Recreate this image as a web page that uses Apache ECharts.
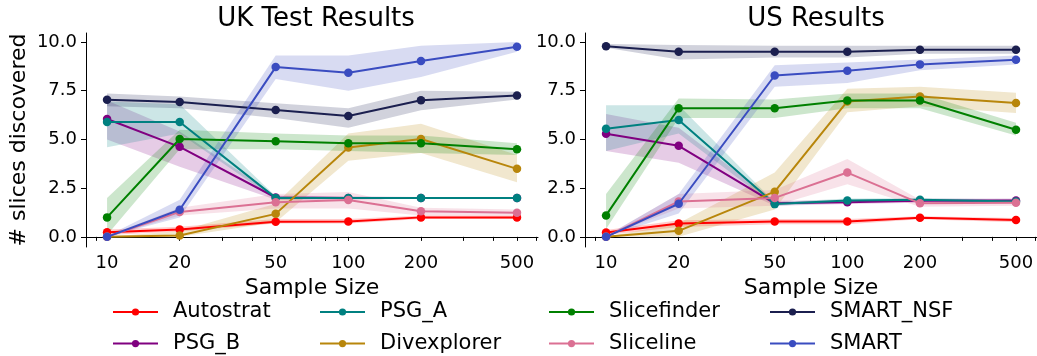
<!DOCTYPE html>
<html><head><meta charset="utf-8">
<script src="https://cdn.jsdelivr.net/npm/echarts@6/dist/echarts.min.js"></script>
<style>html,body{margin:0;padding:0;background:#fff}#c{width:1037px;height:356px}</style>
</head><body><div id="c"></div>
<script>
// ---- data ----
const sampleSizes = [10, 20, 50, 100, 200, 500];
const xTickLabels = [10, 20, 50, 100, 200, 500];
const xAllTicks = [9, 10, 20, 30, 40, 50, 60, 70, 80, 90, 100, 200, 300, 400, 500, 600];
const yTicks = [0, 2.5, 5, 7.5, 10];
const methods = ['Autostrat', 'PSG_B', 'PSG_A', 'Divexplorer', 'Slicefinder', 'Sliceline', 'SMART_NSF', 'SMART'];
const colors = ['#ff0000', '#800080', '#008080', '#b8860b', '#008000', '#db7093', '#1b1f4f', '#3a4cc0'];

// UK means
const ukAutostrat   = [0.24, 0.38, 0.78, 0.79, 1.0, 1.0];
const ukPSG_B       = [6.05, 4.62, 2.02, 2.0, 2.0, 2.0];
const ukPSG_A       = [5.89, 5.89, 2.0, 2.0, 2.0, 2.0];
const ukDivexplorer = [0.0, 0.07, 1.18, 4.59, 5.02, 3.49];
const ukSlicefinder = [1.0, 5.02, 4.9, 4.8, 4.8, 4.5];
const ukSliceline   = [0.0, 1.28, 1.78, 1.89, 1.31, 1.24];
const ukSMART_NSF   = [7.03, 6.92, 6.51, 6.2, 7.01, 7.25];
const ukSMART       = [0.0, 1.39, 8.71, 8.42, 9.02, 9.76];
// UK bands
const ukAutostratLo   = [0.1, 0.28, 0.68, 0.68, 0.92, 0.92];
const ukAutostratHi   = [0.38, 0.52, 0.92, 0.92, 1.1, 1.1];
const ukPSG_BLo       = [5.0, 3.6, 1.9, 1.92, 1.95, 1.95];
const ukPSG_BHi       = [7.0, 5.4, 2.12, 2.08, 2.05, 2.05];
const ukPSG_ALo       = [4.6, 5.3, 1.92, 1.95, 1.95, 1.95];
const ukPSG_AHi       = [6.95, 6.8, 2.08, 2.05, 2.05, 2.05];
const ukDivexplorerLo = [0.0, 0.0, 0.75, 3.9, 4.3, 2.8];
const ukDivexplorerHi = [0.0, 0.3, 1.7, 5.3, 5.8, 4.2];
const ukSlicefinderLo = [0.1, 4.5, 4.5, 4.4, 4.3, 4.2];
const ukSlicefinderHi = [2.0, 5.5, 5.3, 5.2, 5.2, 4.8];
const ukSlicelineLo   = [0.0, 1.1, 1.45, 1.45, 1.1, 1.1];
const ukSlicelineHi   = [0.05, 1.5, 2.2, 2.3, 1.5, 1.4];
const ukSMART_NSFLo   = [6.7, 6.6, 6.1, 5.6, 6.5, 7.05];
const ukSMART_NSFHi   = [7.35, 7.2, 6.85, 6.6, 7.5, 7.45];
const ukSMARTLo       = [0.0, 1.0, 8.1, 7.5, 8.2, 9.5];
const ukSMARTHi       = [0.05, 1.9, 9.3, 9.3, 9.8, 10.0];

// US means
const usAutostrat   = [0.22, 0.69, 0.79, 0.79, 0.98, 0.86];
const usPSG_B       = [5.29, 4.67, 1.72, 1.77, 1.85, 1.86];
const usPSG_A       = [5.55, 6.0, 1.68, 1.87, 1.9, 1.82];
const usDivexplorer = [0.0, 0.31, 2.32, 6.95, 7.2, 6.87];
const usSlicefinder = [1.1, 6.6, 6.6, 7.0, 7.0, 5.5];
const usSliceline   = [0.0, 1.82, 2.0, 3.3, 1.72, 1.75];
const usSMART_NSF   = [9.78, 9.5, 9.5, 9.5, 9.6, 9.6];
const usSMART       = [0.0, 1.7, 8.28, 8.52, 8.85, 9.09];
// US bands
const usAutostratLo   = [0.1, 0.5, 0.65, 0.65, 0.9, 0.75];
const usAutostratHi   = [0.35, 0.85, 0.92, 0.92, 1.06, 0.97];
const usPSG_BLo       = [4.4, 3.8, 1.6, 1.68, 1.75, 1.75];
const usPSG_BHi       = [6.3, 5.6, 1.85, 1.88, 1.95, 1.97];
const usPSG_ALo       = [4.4, 5.3, 1.6, 1.78, 1.82, 1.72];
const usPSG_AHi       = [6.75, 6.75, 1.78, 1.97, 1.98, 1.92];
const usDivexplorerLo = [0.0, 0.0, 1.4, 6.4, 6.7, 6.35];
const usDivexplorerHi = [0.0, 0.7, 3.3, 7.6, 7.7, 7.4];
const usSlicefinderLo = [0.4, 6.1, 6.1, 6.6, 6.6, 5.2];
const usSlicefinderHi = [2.2, 7.1, 7.05, 7.35, 7.35, 5.85];
const usSlicelineLo   = [0.0, 1.45, 1.6, 2.7, 1.55, 1.6];
const usSlicelineHi   = [0.05, 2.2, 2.4, 4.0, 1.9, 1.9];
const usSMART_NSFLo   = [9.7, 9.1, 9.2, 9.2, 9.4, 9.4];
const usSMART_NSFHi   = [9.9, 9.85, 9.8, 9.8, 9.8, 9.8];
const usSMARTLo       = [0.0, 1.2, 7.7, 7.9, 8.55, 8.85];
const usSMARTHi       = [0.05, 2.2, 8.8, 8.95, 9.1, 9.3];

// ---- build ----
const FONT = 'DejaVu Sans';
const panels = [
  { means: [ukAutostrat, ukPSG_B, ukPSG_A, ukDivexplorer, ukSlicefinder, ukSliceline, ukSMART_NSF, ukSMART],
    lo: [ukAutostratLo, ukPSG_BLo, ukPSG_ALo, ukDivexplorerLo, ukSlicefinderLo, ukSlicelineLo, ukSMART_NSFLo, ukSMARTLo],
    hi: [ukAutostratHi, ukPSG_BHi, ukPSG_AHi, ukDivexplorerHi, ukSlicefinderHi, ukSlicelineHi, ukSMART_NSFHi, ukSMARTHi] },
  { means: [usAutostrat, usPSG_B, usPSG_A, usDivexplorer, usSlicefinder, usSliceline, usSMART_NSF, usSMART],
    lo: [usAutostratLo, usPSG_BLo, usPSG_ALo, usDivexplorerLo, usSlicefinderLo, usSlicelineLo, usSMART_NSFLo, usSMARTLo],
    hi: [usAutostratHi, usPSG_BHi, usPSG_AHi, usDivexplorerHi, usSlicefinderHi, usSlicelineHi, usSMART_NSFHi, usSMARTHi] }
];

function bandSeries(name, gi, lo, hi, color) {
  return {
    type: 'custom', name: name + ' band', xAxisIndex: gi, yAxisIndex: gi,
    silent: true, z: 1, animation: false,
    data: sampleSizes.map((x, i) => [x, lo[i], hi[i]]),
    encode: { x: 0, y: [1, 2] },
    renderItem: function (params, api) {
      if (params.dataIndex !== 0) return null;
      const pts = [];
      for (let i = 0; i < sampleSizes.length; i++) pts.push(api.coord([sampleSizes[i], hi[i]]));
      for (let i = sampleSizes.length - 1; i >= 0; i--) pts.push(api.coord([sampleSizes[i], lo[i]]));
      return { type: 'polygon', shape: { points: pts }, style: { fill: color, opacity: 0.2 } };
    }
  };
}

const series = [];
panels.forEach((p, gi) => {
  methods.forEach((m, k) => {
    series.push(bandSeries(m, gi, p.lo[k], p.hi[k], colors[k]));
  });
  methods.forEach((m, k) => {
    series.push({
      type: 'line', name: m, xAxisIndex: gi, yAxisIndex: gi,
      data: sampleSizes.map((x, i) => [x, p.means[k][i]]),
      symbol: 'circle', symbolSize: 8.5, showSymbol: true,
      lineStyle: { width: 2, color: colors[k] }, itemStyle: { color: colors[k] },
      z: 3 + k, animation: false, emphasis: { disabled: true }
    });
  });
});

const grids = [
  { left: 86, top: 33, width: 452, height: 214 },
  { left: 585, top: 33, width: 452, height: 214 }
];

function xAxis(gi) {
  return {
    type: 'log', gridIndex: gi, min: 8.18, max: 611,
    name: 'Sample Size', nameLocation: 'middle', nameGap: 29,
    nameTextStyle: { fontFamily: FONT, fontSize: 22, color: '#000' },
    axisLine: { show: true, lineStyle: { color: '#000', width: 1 } },
    axisTick: { show: true, length: 4, lineStyle: { color: '#000' }, customValues: xAllTicks },
    axisLabel: { fontFamily: FONT, fontSize: 18, color: '#000', margin: 7, customValues: xTickLabels,
                 formatter: v => String(Math.round(v)) },
    splitLine: { show: false }, minorTick: { show: false }
  };
}
function yAxis(gi) {
  const a = {
    type: 'value', gridIndex: gi, min: -0.52, max: 10.46,
    axisLine: { show: true, lineStyle: { color: '#000', width: 1 } },
    axisTick: { show: true, length: 5, lineStyle: { color: '#000' }, customValues: yTicks },
    axisLabel: { fontFamily: FONT, fontSize: 18, color: '#000', margin: 9, customValues: yTicks,
                 formatter: v => Number(v).toFixed(1) },
    splitLine: { show: false }
  };
  if (gi === 0) {
    a.name = '# slices discovered';
    a.nameLocation = 'middle';
    a.nameGap = 56;
    a.nameTextStyle = { fontFamily: FONT, fontSize: 22, color: '#000' };
  }
  return a;
}

const legendCommon = {
  orient: 'vertical', top: 301, padding: 0, itemWidth: 45, itemHeight: 9, itemGap: 9.6,
  textStyle: { fontFamily: FONT, fontSize: 21, lineHeight: 22, color: '#000', padding: [0, 0, 0, 10] },
  selectedMode: false
};

const option = {
  backgroundColor: '#fff',
  animation: false,
  title: [
    { text: 'UK Test Results', left: 311, top: 1, textAlign: 'center',
      textStyle: { fontFamily: FONT, fontSize: 26, fontWeight: 'normal', color: '#000' } },
    { text: 'US Results', left: 811, top: 1, textAlign: 'center',
      textStyle: { fontFamily: FONT, fontSize: 26, fontWeight: 'normal', color: '#000' } }
  ],
  legend: [
    Object.assign({}, legendCommon, { left: 112, data: ['Autostrat', 'PSG_B'] }),
    Object.assign({}, legendCommon, { left: 319, data: ['PSG_A', 'Divexplorer'] }),
    Object.assign({}, legendCommon, { left: 548, data: ['Slicefinder', 'Sliceline'] }),
    Object.assign({}, legendCommon, { left: 769, data: ['SMART_NSF', 'SMART'] })
  ],
  grid: grids,
  xAxis: [xAxis(0), xAxis(1)],
  yAxis: [yAxis(0), yAxis(1)],
  series: series
};

const chart = echarts.init(document.getElementById('c'), null, { renderer: 'canvas' });
chart.setOption(option);
</script>
</body></html>
